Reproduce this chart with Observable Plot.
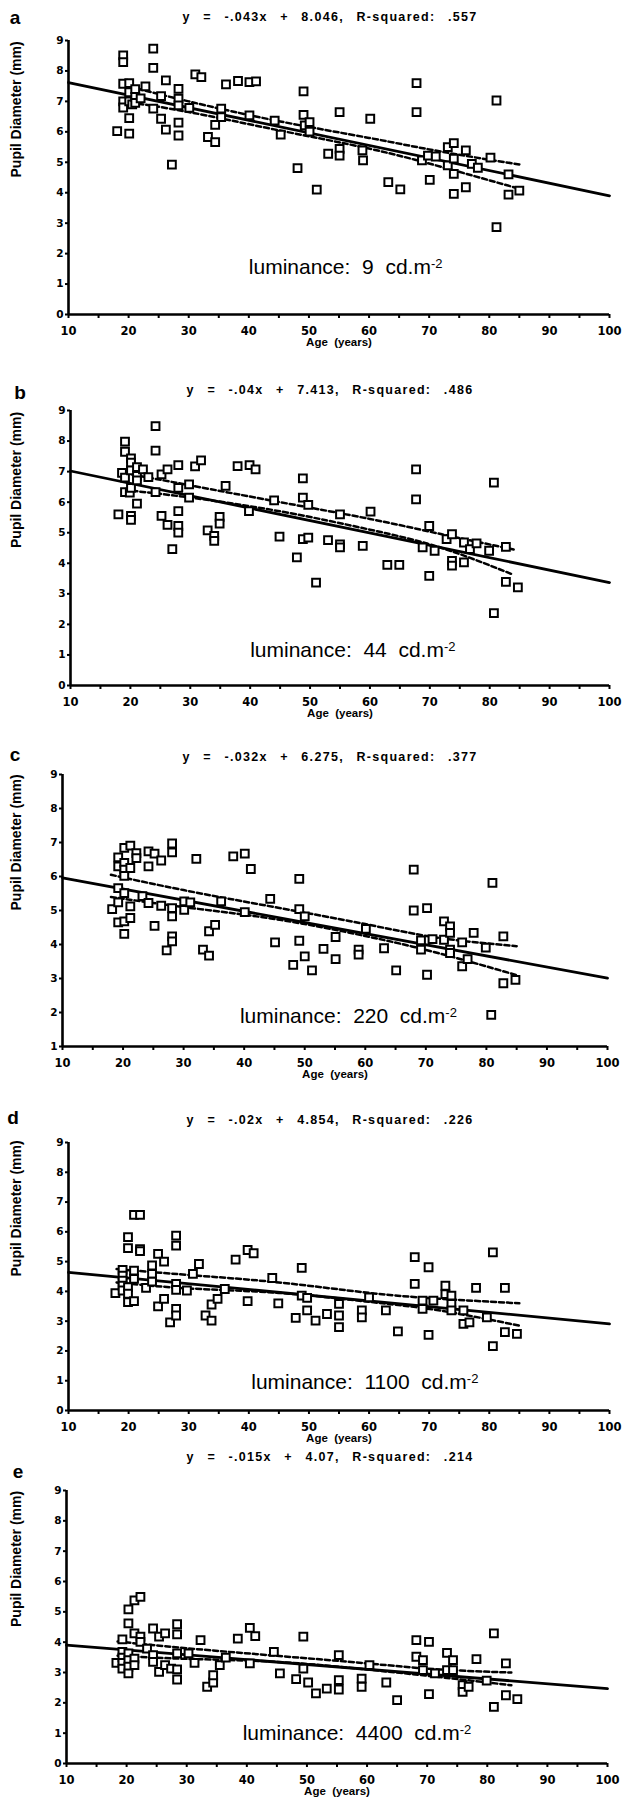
<!DOCTYPE html>
<html><head><meta charset="utf-8">
<script src="https://cdn.jsdelivr.net/npm/d3@7"></script>
<script src="https://cdn.jsdelivr.net/npm/@observablehq/plot@0.6"></script>
<style>
body{margin:0;background:#fff;overflow:hidden}
#fig{position:relative;width:624px;height:1803px;overflow:hidden;font-family:"Liberation Sans",Arial,sans-serif;color:#000;background:#fff}
.panel{position:absolute;left:0}
.title{position:absolute;font-weight:bold;font-size:12.5px;white-space:pre;transform:translate(-50%,-50%);letter-spacing:1.3px;word-spacing:1.5px}
.letter{position:absolute;font-weight:bold;font-size:19px;transform:translate(-50%,-50%)}
</style></head><body><div id="fig"></div>
<script>
// ---- tick labels ----
const xMajor = [10,20,30,40,50,60,70,80,90,100];
const xMinor = [10,15,20,25,30,35,40,45,50,55,60,65,70,75,80,85,90,95,100];
const yTicksAll = [0,1,2,3,4,5,6,7,8,9];
const yTicksC = [1,2,3,4,5,6,7,8,9];

// ---- texts ----
const letters = ["a","b","c","d","e"];
const titles = [
  "y  =  -.043x  +  8.046,  R-squared:  .557",
  "y  =  -.04x  +  7.413,  R-squared:  .486",
  "y  =  -.032x  +  6.275,  R-squared:  .377",
  "y  =  -.02x  +  4.854,  R-squared:  .226",
  "y  =  -.015x  +  4.07,  R-squared:  .214"
];
const luminances = ["9","44","220","1100","4400"];
const xLabel = "Age  (years)";
const yLabel = "Pupil Diameter (mm)";

// ---- panel a: 9 cd/m2 ----
const ptsA = [[18.1,6.02],[19.1,8.51],[19.1,8.29],[19.1,7.58],[19.1,7.0],[19.1,6.8],[20.1,7.6],[20.1,7.3],[20.1,7.0],[20.1,6.45],[20.1,5.94],[20.6,6.9],[21.1,7.4],[21.1,7.15],[21.1,6.95],[22.0,7.1],[22.8,7.49],[24.1,8.73],[24.1,8.1],[24.1,6.76],[25.4,7.17],[25.4,6.43],[26.2,7.69],[26.2,6.07],[27.2,4.92],[28.3,7.41],[28.3,7.09],[28.3,6.87],[28.3,6.30],[28.3,5.88],[30.1,6.79],[31.1,7.89],[32.1,7.80],[33.2,5.83],[34.4,5.66],[34.4,6.23],[35.4,6.76],[35.4,6.48],[36.2,7.56],[38.2,7.67],[40.1,6.54],[40.1,7.63],[41.2,7.66],[44.3,6.37],[45.3,5.91],[48.1,4.81],[49.1,7.33],[49.1,6.56],[49.3,6.21],[50.1,6.32],[50.1,6.01],[51.3,4.10],[53.2,5.28],[55.1,6.65],[55.1,5.44],[55.1,5.22],[58.9,5.39],[59.0,5.06],[60.2,6.43],[63.2,4.35],[65.2,4.11],[67.9,7.60],[67.9,6.65],[68.8,5.06],[69.8,5.22],[70.1,4.42],[71.1,5.19],[73.1,5.50],[73.1,4.90],[74.1,5.63],[74.1,5.12],[74.1,4.62],[74.1,3.96],[76.1,5.39],[76.1,4.18],[77.1,4.95],[78.1,4.82],[80.2,5.15],[81.2,7.03],[81.2,2.87],[83.2,4.60],[83.2,3.94],[85.0,4.07]];
const fitA = [[10,7.62],[100,3.9]];
const upA = [[19,7.55],[30,7.0],[45,6.35],[60,5.8],[72,5.35],[85,4.93]];
const loA = [[19,7.0],[30,6.65],[45,6.05],[60,5.45],[72,4.85],[85,4.13]];
const lumA = [40,1.55];

// ---- panel b: 44 cd/m2 ----
const ptsB = [[18.0,5.60],[19.1,7.98],[19.1,7.65],[18.6,6.96],[19.1,6.80],[19.1,6.33],[19.9,6.31],[20.1,7.43],[20.1,7.29],[20.1,7.04],[20.1,6.47],[20.1,5.55],[20.1,5.42],[21.1,7.15],[21.1,6.86],[21.1,6.71],[21.1,5.95],[22.1,7.07],[23.0,6.82],[24.2,8.49],[24.2,7.69],[24.2,6.33],[25.2,6.91],[25.2,5.55],[26.2,7.07],[26.2,5.26],[27.0,4.46],[28.0,7.21],[28.0,6.47],[28.0,5.71],[28.0,5.22],[28.0,5.0],[29.8,6.58],[29.8,6.15],[30.8,7.17],[31.8,7.37],[32.9,5.08],[34.0,4.90],[34.0,4.73],[34.9,5.52],[34.9,5.30],[35.9,6.53],[37.9,7.18],[39.9,7.21],[40.9,7.07],[39.8,5.71],[44.0,6.06],[44.9,4.87],[47.8,4.19],[48.8,6.78],[48.8,6.15],[48.8,4.79],[49.7,5.91],[49.7,4.84],[51.0,3.37],[53.0,4.76],[55.0,5.60],[55.0,4.62],[55.0,4.52],[58.8,4.57],[60.1,5.69],[62.9,3.95],[64.9,3.95],[67.7,7.07],[67.7,6.09],[68.8,4.52],[69.9,5.22],[69.9,3.59],[70.8,4.41],[72.8,4.79],[73.7,4.95],[73.7,4.08],[73.7,3.92],[75.7,4.68],[75.7,4.03],[76.7,4.46],[77.8,4.65],[79.9,4.41],[80.7,6.64],[80.7,2.37],[82.7,3.39],[82.7,4.54],[84.7,3.21]];
const fitB = [[10,7.02],[100,3.37]];
const upB = [[19,6.95],[30,6.55],[45,6.0],[60,5.45],[72,4.95],[84,4.45]];
const loB = [[19,6.4],[30,6.15],[45,5.7],[60,5.1],[72,4.5],[84,3.62]];
const lumB = [40,1.15];

// ---- panel c: 220 cd/m2 ----
const ptsC = [[18.2,5.04],[19.2,6.56],[19.2,6.30],[19.2,5.66],[19.2,5.24],[19.2,4.65],[20.2,6.84],[20.2,6.40],[20.2,6.20],[20.2,6.02],[20.2,5.51],[20.2,4.68],[20.2,4.31],[21.2,6.91],[21.2,6.25],[21.2,5.12],[21.2,4.78],[22.2,6.69],[22.2,6.54],[23.2,5.42],[24.2,6.74],[24.2,6.30],[24.2,5.22],[25.2,4.55],[25.2,6.67],[26.3,6.47],[26.3,5.14],[27.2,3.83],[28.1,5.07],[28.1,4.83],[28.1,6.97],[28.1,6.71],[28.1,4.24],[28.1,4.09],[30.1,5.02],[30.1,5.27],[31.1,5.24],[32.1,6.52],[33.2,3.85],[34.2,3.67],[34.2,4.39],[35.2,4.58],[36.2,5.27],[38.2,6.59],[40.1,6.67],[40.1,4.95],[41.1,6.22],[44.3,5.34],[45.1,4.06],[48.1,3.40],[49.1,5.93],[49.1,5.04],[49.1,4.11],[50.0,4.83],[50.0,3.65],[51.2,3.24],[53.1,3.87],[55.1,4.22],[55.1,3.57],[58.9,3.85],[58.9,3.70],[60.1,4.46],[63.1,3.89],[65.1,3.24],[68.0,6.20],[68.0,5.00],[69.2,4.12],[69.2,3.85],[70.2,5.07],[70.2,3.11],[71.1,4.16],[73.0,4.68],[73.0,4.14],[74.0,4.53],[74.0,4.34],[74.0,3.85],[74.0,3.75],[76.0,4.06],[76.0,3.36],[76.9,3.57],[77.9,4.34],[79.9,3.91],[81.0,5.81],[80.8,1.93],[82.8,2.86],[82.8,4.24],[84.8,2.96]];
const fitC = [[10,5.96],[100,3.01]];
const upC = [[18,6.05],[30,5.6],[45,5.1],[60,4.6],[72,4.2],[85,3.95]];
const loC = [[18,5.4],[30,5.1],[45,4.75],[60,4.25],[72,3.75],[85,3.1]];
const lumC = [39.3,1.9];

// ---- panel d: 1100 cd/m2 ----
const ptsD = [[17.8,3.94],[19.0,4.72],[19.0,4.53],[19.0,4.36],[19.0,4.19],[19.0,4.03],[19.9,5.82],[19.9,5.45],[19.9,4.14],[19.9,3.92],[19.9,3.64],[20.9,4.70],[20.9,4.42],[20.9,3.67],[20.9,6.57],[21.9,6.57],[21.9,5.42],[21.9,5.35],[22.9,4.12],[23.9,4.87],[23.9,4.59],[23.9,4.33],[24.9,5.26],[24.9,3.50],[25.9,5.00],[25.9,3.75],[26.9,2.96],[27.9,5.87],[27.9,5.54],[27.9,4.25],[27.9,4.05],[27.9,3.41],[27.9,3.19],[29.7,4.03],[30.7,4.59],[31.7,4.92],[32.8,3.19],[33.8,3.02],[33.8,3.56],[34.8,3.75],[36.0,4.08],[37.8,5.07],[39.8,5.39],[40.8,5.28],[39.8,3.67],[43.9,4.45],[44.9,3.60],[47.8,3.11],[48.8,4.79],[48.8,3.86],[49.7,3.78],[49.7,3.36],[51.1,3.02],[53.0,3.24],[55.0,3.58],[55.0,3.19],[55.0,2.80],[58.8,3.36],[58.8,3.13],[60.0,3.80],[62.8,3.36],[64.8,2.66],[67.6,5.15],[67.6,4.25],[68.9,3.69],[68.9,3.41],[69.9,4.81],[69.9,2.54],[70.7,3.69],[72.7,4.19],[72.7,3.91],[73.7,3.86],[73.7,3.58],[73.7,3.36],[75.7,3.36],[75.7,2.91],[76.7,2.96],[77.8,4.12],[79.6,3.13],[80.6,5.31],[80.6,2.16],[82.6,4.12],[82.6,2.63],[84.6,2.57]];
const fitD = [[10,4.64],[100,2.91]];
const upD = [[18,4.75],[30,4.55],[45,4.3],[60,3.95],[72,3.75],[85,3.6]];
const loD = [[18,4.3],[30,4.1],[45,3.95],[60,3.65],[72,3.35],[85,2.85]];
const lumD = [40.4,0.95];

// ---- panel e: 4400 cd/m2 ----
const ptsE = [[18.3,3.32],[19.3,4.09],[19.3,3.68],[19.3,3.49],[19.3,3.32],[19.3,3.13],[20.3,5.08],[20.3,4.62],[20.3,3.63],[20.3,3.41],[20.3,3.19],[20.3,2.97],[21.3,5.38],[21.3,4.29],[21.3,3.46],[21.3,3.24],[22.3,5.49],[22.3,4.18],[22.3,4.01],[23.4,3.79],[24.4,4.45],[24.4,3.57],[24.4,3.35],[25.4,4.18],[25.4,3.02],[26.4,4.29],[26.4,3.24],[27.4,3.13],[28.4,4.59],[28.4,4.26],[28.4,3.63],[28.4,3.10],[28.4,2.77],[30.3,3.63],[31.3,3.32],[32.3,4.07],[33.4,2.53],[34.4,2.67],[34.4,2.91],[35.5,3.24],[36.5,3.49],[38.5,4.12],[40.5,4.47],[41.4,4.20],[40.5,3.30],[44.5,3.68],[45.5,2.97],[48.2,2.78],[49.4,4.18],[49.4,3.13],[50.2,2.67],[51.5,2.31],[53.3,2.47],[55.3,3.57],[55.3,2.75],[55.3,2.44],[59.1,2.80],[59.1,2.53],[60.4,3.24],[63.2,2.67],[65.0,2.09],[68.2,4.07],[68.2,3.52],[69.3,3.41],[69.3,3.08],[70.3,4.01],[70.3,2.29],[71.3,2.97],[73.3,3.65],[73.3,3.08],[74.3,3.41],[74.3,3.08],[75.9,2.58],[75.9,2.36],[76.9,2.53],[78.2,3.44],[79.9,2.73],[81.1,4.29],[81.1,1.87],[83.1,3.30],[83.1,2.25],[85.0,2.12]];
const fitE = [[10,3.9],[100,2.47]];
const upE = [[18.5,4.02],[30,3.8],[45,3.55],[60,3.3],[72,3.1],[84,3.0]];
const loE = [[18.5,3.55],[30,3.45],[45,3.35],[60,3.1],[72,2.85],[84,2.58]];
const lumE = [39.3,0.99];

// ---- layout (positions only) ----
const panels = [
  {pts: ptsA, fit: fitA, up: upA, lo: loA, lum: lumA, yMin: 0, top: 30,   height: 329, ml: 68, mr: 15, titleY: 17,   letterX: 15, letterY: 18},
  {pts: ptsB, fit: fitB, up: upB, lo: loB, lum: lumB, yMin: 0, top: 400,  height: 330, ml: 70, mr: 15, titleY: 390,  letterX: 20, letterY: 393},
  {pts: ptsC, fit: fitC, up: upC, lo: loC, lum: lumC, yMin: 1, top: 764,  height: 327, ml: 62, mr: 17, titleY: 757,  letterX: 15, letterY: 755},
  {pts: ptsD, fit: fitD, up: upD, lo: loD, lum: lumD, yMin: 0, top: 1132, height: 323, ml: 68, mr: 15, titleY: 1120, letterX: 13, letterY: 1118},
  {pts: ptsE, fit: fitE, up: upE, lo: loE, lum: lumE, yMin: 0, top: 1480, height: 328, ml: 66, mr: 17, titleY: 1457, letterX: 18, letterY: 1472}
];

const fig = document.getElementById("fig");
const X = d => d[0], Y = d => d[1];
const tickFont = "DejaVu Sans, Liberation Sans, Arial, sans-serif";

panels.forEach((p, i) => {
  const yTicks = p.yMin === 1 ? yTicksC : yTicksAll;
  const lumText = "luminance:  " + luminances[i] + "  cd.m";
  const chart = Plot.plot({
    width: 624, height: p.height,
    marginTop: 10, marginBottom: 45, marginLeft: p.ml, marginRight: p.mr,
    x: {domain: [10, 100], label: null},
    y: {domain: [p.yMin, 9], label: null},
    style: {fontFamily: "Liberation Sans, Arial, sans-serif", background: "transparent", color: "black", overflow: "visible"},
    marks: [
      Plot.axisX(xMinor, {tickSize: 4, strokeWidth: 2, tickFormat: () => "", label: null}),
      Plot.axisX(xMajor, {tickSize: 0, tickPadding: 12, fontSize: 11.5, fontWeight: "bold", fontFamily: tickFont, label: null}),
      Plot.axisY(yTicks, {tickSize: 3, strokeWidth: 2, tickPadding: 2, fontSize: 10.5, fontWeight: "bold", fontFamily: tickFont, label: null}),
      Plot.ruleX([10], {y1: p.yMin, y2: 9, strokeWidth: 2.6}),
      Plot.ruleY([p.yMin], {x1: 10, x2: 100, strokeWidth: 2.6}),
      Plot.line(p.fit, {x: X, y: Y, strokeWidth: 2.8}),
      Plot.line(p.up, {x: X, y: Y, curve: "natural", strokeWidth: 2.5, strokeDasharray: "5,3"}),
      Plot.line(p.lo, {x: X, y: Y, curve: "natural", strokeWidth: 2.5, strokeDasharray: "5,3"}),
      Plot.dot(p.pts, {x: X, y: Y, symbol: "square", r: 4.4, stroke: "black", fill: "white", strokeWidth: 2}),
      Plot.text([p.lum], {x: X, y: Y, text: () => lumText, textAnchor: "start", fontSize: 21}),
      Plot.text([xLabel], {frameAnchor: "bottom", dy: 31, fontWeight: "bold", fontSize: 11.5}),
      Plot.text([yLabel], {frameAnchor: "left", dx: -(p.ml - 16), rotate: -90, fontWeight: "bold", fontSize: 14})
    ]
  });
  d3.select(chart).selectAll("text").style("white-space", "pre");
  d3.select(chart).selectAll("text").filter(function() {
    return this.textContent.indexOf("luminance") === 0;
  }).each(function() {
    const t = d3.select(this);
    const s = this.textContent;
    t.selectAll("*").remove();
    t.text(null);
    t.append("tspan").text(s);
    t.append("tspan").attr("dy", "-0.45em").attr("font-size", "13px").text("-2");
  });
  const div = document.createElement("div");
  div.className = "panel";
  div.style.top = p.top + "px";
  div.appendChild(chart);
  fig.appendChild(div);

  const t = document.createElement("div");
  t.className = "title";
  t.style.left = "330px";
  t.style.top = p.titleY + "px";
  t.textContent = titles[i];
  fig.appendChild(t);

  const l = document.createElement("div");
  l.className = "letter";
  l.style.left = p.letterX + "px";
  l.style.top = p.letterY + "px";
  l.textContent = letters[i];
  fig.appendChild(l);
});
</script></body></html>
